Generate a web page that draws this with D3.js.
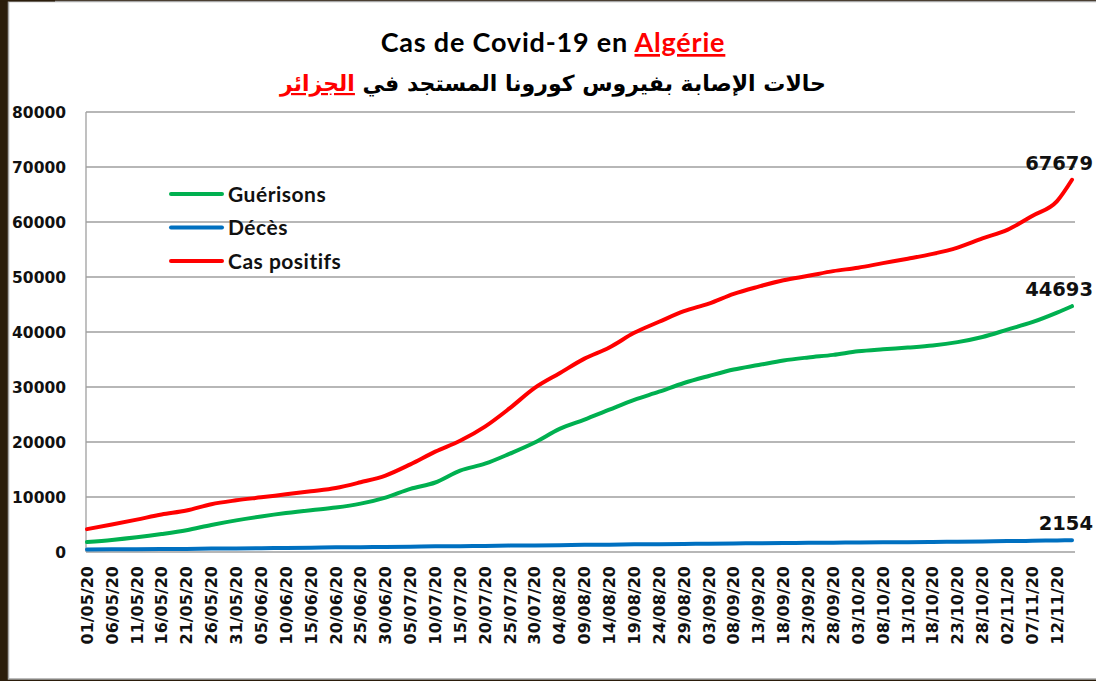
<!DOCTYPE html>
<html lang="fr">
  <head>
    <meta charset="UTF-8" />
    <title>Cas de Covid-19 en Algérie</title>
    <script src="https://d3js.org/d3.v7.min.js"></script>
    <style>
      body { margin: 0; background: #2b1d0b; }
      svg { display: block; }
    </style>
  </head>
  <body>
    <svg width="1096" height="681"></svg>

    <script>
      // relevés tous les 5 jours (+ dernier jour)
      var dates = ["01/05/20","06/05/20","11/05/20","16/05/20","21/05/20","26/05/20","31/05/20",
        "05/06/20","10/06/20","15/06/20","20/06/20","25/06/20","30/06/20","05/07/20","10/07/20",
        "15/07/20","20/07/20","25/07/20","30/07/20","04/08/20","09/08/20","14/08/20","19/08/20",
        "24/08/20","29/08/20","03/09/20","08/09/20","13/09/20","18/09/20","23/09/20","28/09/20",
        "03/10/20","08/10/20","13/10/20","18/10/20","23/10/20","28/10/20","02/11/20","07/11/20",
        "12/11/20","15/11/20"];

      var positifs = [4154, 4997, 5891, 6821, 7542, 8697, 9394, 9935, 10484, 11031, 11631, 12685,
        13907, 15941, 18242, 20216, 22800, 26159, 29831, 32504, 35160, 37187, 39847, 41858, 43781,
        45158, 46938, 48254, 49413, 50214, 51067, 51690, 52520, 53325, 54203, 55357, 57026, 58574,
        61100, 63800, 67679];

      var gueris = [1821, 2197, 2678, 3271, 3968, 4918, 5748, 6453, 7074, 7606, 8078, 8792, 9897,
        11492, 12637, 14792, 16051, 17883, 19902, 22375, 24083, 25886, 27653, 29142, 30726, 32006,
        33183, 33998, 34818, 35375, 35842, 36482, 36857, 37170, 37541, 38162, 39095, 40426, 41783,
        43526, 44693];

      var deces = [453, 483, 516, 542, 568, 617, 653, 690, 737, 788, 845, 885, 912, 965, 1024, 1068,
        1111, 1163, 1200, 1248, 1302, 1339, 1388, 1424, 1469, 1510, 1556, 1591, 1632, 1665, 1698,
        1726, 1752, 1795, 1827, 1873, 1931, 1980, 2036, 2111, 2154];

      var yTicks = [0, 10000, 20000, 30000, 40000, 50000, 60000, 70000, 80000];
      var tickDates = dates.slice(0, -1); // étiquettes de l'axe X

      var series = [
        { name: "Guérisons", values: gueris, color: "#00b050" },
        { name: "Décès", values: deces, color: "#0070c0" },
        { name: "Cas positifs", values: positifs, color: "#ff0000" }
      ];

      var svg = d3.select("svg");
      var parse = d3.timeParse("%d/%m/%y");

      // cadre
      svg.append("rect").attr("x", 8.5).attr("y", 1.5).attr("width", 1100).attr("height", 677.5)
        .attr("fill", "#fff").attr("stroke", "#a6a6a6").attr("stroke-width", 1.5);
      svg.append("rect").attr("x", 0).attr("y", 0).attr("width", 55).attr("height", 1.5)
        .attr("fill", "#2b1d0b");

      var x = d3.scaleTime()
        .domain([parse(dates[0]), parse(dates[dates.length - 1])])
        .range([87, 1072]);
      var y = d3.scaleLinear().domain([0, 80000]).range([552, 112]);

      // grille
      svg.append("g")
        .selectAll("line")
        .data(yTicks)
        .enter()
        .append("line")
        .attr("x1", 86).attr("x2", 1075)
        .attr("y1", function (d) { return y(d); })
        .attr("y2", function (d) { return y(d); })
        .attr("stroke", "#9f9f9f")
        .attr("stroke-width", 1.3);

      svg.append("line")
        .attr("x1", 86).attr("x2", 86).attr("y1", y(80000)).attr("y2", y(0))
        .attr("stroke", "#9f9f9f").attr("stroke-width", 1.3);

      // axe Y
      svg.append("g")
        .selectAll("text")
        .data(yTicks)
        .enter()
        .append("text")
        .attr("x", 66)
        .attr("y", function (d) { return y(d); })
        .attr("dy", "0.36em")
        .attr("text-anchor", "end")
        .style("font", "bold 15.5px 'DejaVu Sans'")
        .attr("fill", "#111")
        .text(function (d) { return d; });

      // axe X
      svg.append("g")
        .selectAll("text")
        .data(tickDates)
        .enter()
        .append("text")
        .attr("transform", function (d) {
          return "translate(" + x(parse(d)) + ",566) rotate(-90)";
        })
        .attr("dy", "0.36em")
        .attr("text-anchor", "end")
        .style("font", "bold 16px 'DejaVu Sans'")
        .attr("fill", "#111")
        .text(function (d) { return d; });

      // courbes
      var line = d3.line()
        .x(function (d, i) { return x(parse(dates[i])); })
        .y(function (d) { return y(d); })
        .curve(d3.curveMonotoneX);

      svg.append("g")
        .selectAll("path")
        .data(series)
        .enter()
        .append("path")
        .attr("d", function (s) { return line(s.values); })
        .attr("fill", "none")
        .attr("stroke", function (s) { return s.color; })
        .attr("stroke-width", 4)
        .attr("stroke-linejoin", "round")
        .attr("stroke-linecap", "round");

      // valeurs finales
      svg.append("g")
        .selectAll("text")
        .data(series)
        .enter()
        .append("text")
        .attr("x", x(parse(dates[dates.length - 1])) + 21)
        .attr("y", function (s) { return y(s.values[s.values.length - 1]) - 10; })
        .attr("text-anchor", "end")
        .style("font", "bold 19.5px 'DejaVu Sans'")
        .attr("fill", "#111")
        .text(function (s) { return s.values[s.values.length - 1]; });

      // légende
      var legend = svg.append("g")
        .selectAll("g")
        .data(series)
        .enter()
        .append("g")
        .attr("transform", function (d, i) { return "translate(0," + (194 + i * 33.5) + ")"; });

      legend.append("line")
        .attr("x1", 171).attr("x2", 222)
        .attr("stroke", function (s) { return s.color; })
        .attr("stroke-width", 4)
        .attr("stroke-linecap", "round");

      legend.append("text")
        .attr("x", 228)
        .attr("dy", "0.36em")
        .style("font", "bold 21px Lato")
        .style("letter-spacing", "0.5px")
        .attr("fill", "#111")
        .text(function (s) { return s.name; });

      // titres
      var t1 = svg.append("text")
        .attr("x", 553).attr("y", 52)
        .attr("text-anchor", "middle")
        .style("font", "bold 27px Lato")
        .style("letter-spacing", "0.8px")
        .attr("fill", "#000");
      t1.append("tspan").text("Cas de Covid-19 en ");
      t1.append("tspan").attr("fill", "#ff0000").style("text-decoration", "underline").text("Algérie");

      var t2 = svg.append("text")
        .attr("x", 553).attr("y", 91)
        .attr("text-anchor", "middle")
        .attr("direction", "rtl")
        .style("font", "bold 22px 'DejaVu Sans'")
        .attr("fill", "#000");
      t2.append("tspan").text("حالات الإصابة بفيروس كورونا المستجد في ");
      t2.append("tspan").attr("fill", "#ff0000").style("text-decoration", "underline").text("الجزائر");
    </script>
  </body>
</html>
